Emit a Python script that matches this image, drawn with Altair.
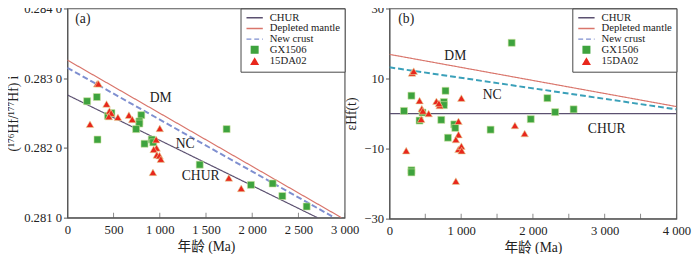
import altair as alt
import pandas as pd

SERIF = "Liberation Serif"
FONT_CJK = "Liberation Serif, Noto Sans CJK SC"
series_names = ["CHUR", "Depleted mantle", "New crust", "GX1506", "15DA02"]

# ---------- panel (a) ----------
a_gx_age = [214, 319, 326, 439, 477, 800, 779, 779, 744, 835, 913, 929, 1432, 1723, 1986, 2221, 2326, 2589]
a_gx_val = [0.28267, 0.28273, 0.28212, 0.28246, 0.28250, 0.28247, 0.28238, 0.28235, 0.28227, 0.28206,
            0.28212, 0.28208, 0.28176, 0.28227, 0.28147, 0.28149, 0.28131, 0.28116]
a_da_age = [323, 337, 245, 424, 456, 474, 449, 547, 666, 702, 1000, 961, 965, 934, 968, 997, 1011, 926, 1747, 1881]
a_da_val = [0.28292, 0.28292, 0.28234, 0.28263, 0.28253, 0.28250, 0.28245, 0.28244, 0.28247, 0.28241,
            0.28228, 0.28212, 0.28200, 0.28198, 0.28190, 0.28189, 0.28184, 0.28165, 0.28157, 0.28142]
a_chur_age = [0, 2705]
a_chur_val = [0.28276, 0.28100]
a_dm_age = [0, 2965]
a_dm_val = [0.28326, 0.28100]
a_nc_age = [0, 2890]
a_nc_val = [0.28315, 0.28100]
a_lbl_text = ["DM", "NC", "CHUR", "(a)"]
a_lbl_age = [1010, 1274, 1442, 168]
a_lbl_val = [0.28271, 0.28206, 0.28160, 0.28385]
a_xticks = [0, 500, 1000, 1500, 2000, 2500, 3000]
a_yticks = [0.2810, 0.2815, 0.2820, 0.2825, 0.2830, 0.2835, 0.2840]

# ---------- panel (b) ----------
b_gx_age = [1704, 307, 203, 782, 759, 759, 420, 461, 723, 904, 918, 816, 307, 307, 1410, 1970, 2202, 2310, 2567]
b_gx_val = [20.2, 5.1, 0.75, 6.5, 3.3, 2.4, -2.0, 0.3, -1.8, -3.1, -4.1, -6.9, -16.2, -16.8, -4.6, -1.6, 4.4, 0.4, 1.2]
b_da_age = [316, 339, 420, 452, 466, 547, 655, 701, 690, 1003, 443, 963, 963, 926, 963, 1003, 1007, 234, 926, 1749, 1885]
b_da_val = [11.6, 12.1, 3.7, 1.4, 0.75, 0.0, 3.5, 2.3, 2.9, 4.4, -1.6, -2.2, -6.0, -7.4, -10.2, -9.3, -10.6, -10.6,
            -19.3, -3.4, -5.7]
b_chur_age = [0, 4000]
b_chur_val = [0, 0]
b_dm_age = [0, 4000]
b_dm_val = [16.9, 2.0]
b_nc_age = [0, 4000]
b_nc_val = [13.2, 1.2]
b_lbl_text = ["DM", "NC", "CHUR", "(b)"]
b_lbl_age = [918, 1433, 3029, 235]
b_lbl_val = [16.5, 5.2, -4.3, 27.1]
b_xticks = [0, 500, 1000, 1500, 2000, 2500, 3000, 3500, 4000]
b_yticks = [-30, -20, -10, 0, 10, 20, 30]

X_LABEL_EXPR = ("datum.value >= 1000 ? format(floor(datum.value/1000),'d') + ' ' + "
                "slice(format(datum.value,'d'), -3) : format(datum.value,'d')")
LINE_SYM = "M-2.5,0L2.5,0"


def build_panel(gx_age, gx_val, da_age, da_val, lines, lbl, xdom, ydom, xticks, yticks,
                w, h, ytitle, ylabel_expr, nc_plot_color, legend_nc_color, ytitle_pad):
    line_rows = []
    for name, ages, vals in lines:
        for a, v in zip(ages, vals):
            line_rows.append({"series": name, "age": a, "val": v})
    df_lines = pd.DataFrame(line_rows)
    df_gx = pd.DataFrame({"series": "GX1506", "age": gx_age, "val": gx_val})
    df_da = pd.DataFrame({"series": "15DA02", "age": da_age, "val": da_val})
    df_lbl = pd.DataFrame({"txt": lbl[0], "age": lbl[1], "val": lbl[2]})
    df_ticks = pd.DataFrame({"age": xticks, "val": [ydom[0]] * len(xticks)})

    xs = alt.Scale(domain=xdom, nice=False, zero=False)
    ys = alt.Scale(domain=ydom, nice=False, zero=False)
    x_enc = alt.X("age:Q", scale=xs, axis=alt.Axis(
        title="年龄 (Ma)", values=xticks, labelExpr=X_LABEL_EXPR, ticks=False, tickSize=0,
        labelPadding=6, titlePadding=4, grid=False, labelFlush=False,
        labelFont=SERIF, titleFont=FONT_CJK))
    y_enc = alt.Y("val:Q", scale=ys, axis=alt.Axis(
        title=ytitle, values=yticks, labelExpr=ylabel_expr, tickSize=4, labelPadding=2,
        titlePadding=ytitle_pad, grid=False, labelFont=SERIF, titleFont=SERIF))

    colors = ["#5b5070", "#d9756b", legend_nc_color, "#3ea33e", "#e8271c"]
    legend = alt.Legend(title=None, orient="top-right", offset=0, fillColor="white",
                        strokeColor="#444", padding=4, labelFont=SERIF, labelFontSize=11,
                        rowPadding=-3, symbolStrokeWidth=1.5, symbolOffset=5, labelOffset=10,
                        labelLimit=200, symbolSize=45)
    color_enc = alt.Color("series:N", scale=alt.Scale(domain=series_names, range=colors), legend=legend)
    dash_enc = alt.StrokeDash("series:N", scale=alt.Scale(
        domain=series_names, range=[[1, 0], [1, 0], [5, 3], [1, 0], [1, 0]]), legend=legend)
    shape_enc = alt.Shape("series:N", scale=alt.Scale(
        domain=series_names, range=[LINE_SYM, LINE_SYM, LINE_SYM, "square", "triangle-up"]), legend=legend)

    base_lines = alt.Chart(df_lines).transform_filter(alt.datum.series != "New crust").mark_line(
        strokeWidth=1.2, clip=True).encode(x=x_enc, y=y_enc, color=color_enc, strokeDash=dash_enc,
                                           detail="series:N")
    nc_line = alt.Chart(df_lines).transform_filter(alt.datum.series == "New crust").mark_line(
        strokeWidth=2, strokeDash=[6, 3], clip=True, color=nc_plot_color).encode(x="age:Q", y="val:Q")
    sq = alt.Chart(df_gx).mark_point(filled=True, opacity=1, size=52, stroke="#cfe3a0",
                                     strokeWidth=0.6).encode(
        x="age:Q", y="val:Q", color=color_enc, shape=shape_enc)
    tri = alt.Chart(df_da).mark_point(filled=True, opacity=1, size=62, stroke="#e6dca0",
                                      strokeWidth=0.6).encode(
        x="age:Q", y="val:Q", color=color_enc, shape=shape_enc)
    txt = alt.Chart(df_lbl).mark_text(font=SERIF, fontSize=14, color="#222").encode(
        x="age:Q", y="val:Q", text="txt:N")
    ticks = alt.Chart(df_ticks).mark_tick(orient="vertical", size=10, thickness=1, color="#555",
                                          clip=True).encode(x="age:Q", y="val:Q")
    return alt.layer(base_lines, nc_line, sq, tri, txt, ticks).properties(width=w, height=h)


ya_expr = "slice(format(datum.value,'.4f'),0,5) + ' ' + slice(format(datum.value,'.4f'),5)"
yb_expr = "format(datum.value,'d')"

panel_a = build_panel(
    a_gx_age, a_gx_val, a_da_age, a_da_val,
    [("CHUR", a_chur_age, a_chur_val), ("Depleted mantle", a_dm_age, a_dm_val), ("New crust", a_nc_age, a_nc_val)],
    (a_lbl_text, a_lbl_age, a_lbl_val), [0, 3000], [0.2810, 0.2840], a_xticks, a_yticks,
    285, 215, "(¹⁷⁶Hf/¹⁷⁷Hf) i", ya_expr, "#7f8fd0", "#7f8fd0", 3)

panel_b = build_panel(
    b_gx_age, b_gx_val, b_da_age, b_da_val,
    [("CHUR", b_chur_age, b_chur_val), ("Depleted mantle", b_dm_age, b_dm_val), ("New crust", b_nc_age, b_nc_val)],
    (b_lbl_text, b_lbl_age, b_lbl_val), [0, 4000], [-30, 30], b_xticks, b_yticks,
    295, 216, "εHf(t)", yb_expr, "#3aa0b9", "#7f8fd0", 6)

chart = alt.hconcat(panel_a, panel_b, spacing=46, bounds="flush").resolve_scale(
    color="independent", shape="independent", strokeDash="independent",
    x="independent", y="independent"
).resolve_legend(color="independent", shape="independent", strokeDash="independent"
).properties(padding={"top": -10, "left": -2, "right": 0, "bottom": 0}).configure(
    font=SERIF
).configure_view(stroke="#555", strokeWidth=1.2).configure_axis(
    domainColor="#555", tickColor="#555", labelColor="#222", titleColor="#222",
    labelFontSize=13, titleFontSize=14, titleFontWeight="normal"
).configure_legend(labelColor="#222")

chart.save("out.html", embed_options={"renderer": "svg", "actions": False})
